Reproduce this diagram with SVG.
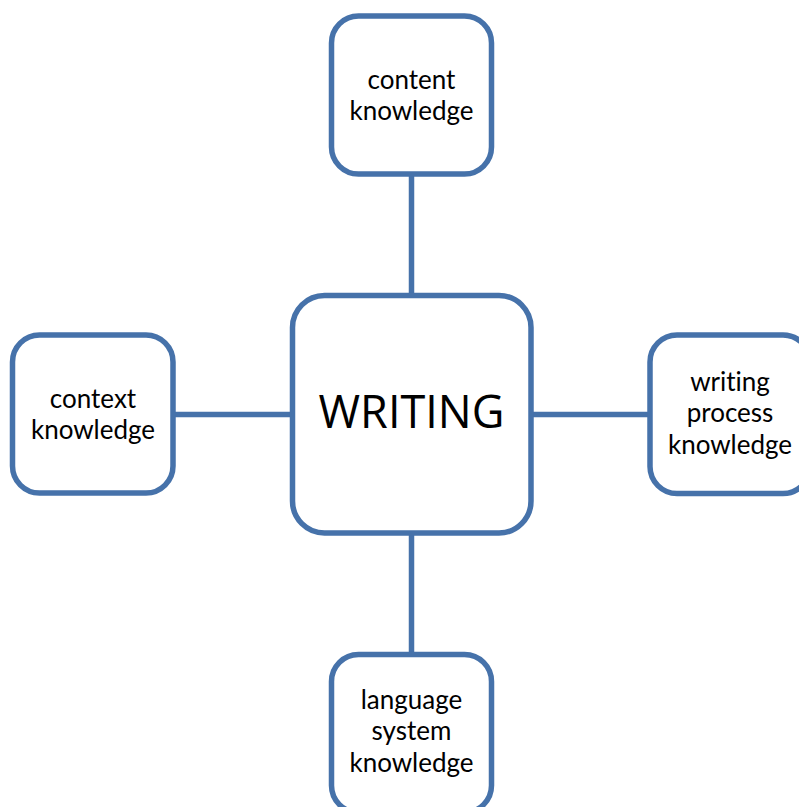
<svg xmlns="http://www.w3.org/2000/svg" width="799" height="807" viewBox="0 0 799 807">
<style>
.box{fill:#ffffff;stroke:#4672aa;stroke-width:5.5}
.conn{stroke:#4672aa;stroke-width:5.5;fill:none}
text{fill:#000;text-anchor:middle}
.lbl{font-family:Lato,"Liberation Sans",sans-serif;font-size:26px;font-variant-ligatures:none}
.main{font-family:"Open Sans","Liberation Sans",sans-serif;font-size:45px}
</style>
<rect width="799" height="807" fill="#ffffff"/>
<g id="connectors">
<line class="conn" x1="411.5" y1="174" x2="411.5" y2="295.5"/>
<line class="conn" x1="173" y1="414.5" x2="292.5" y2="414.5"/>
<line class="conn" x1="531" y1="414.5" x2="650" y2="414.5"/>
<line class="conn" x1="411.5" y1="533" x2="411.5" y2="654.5"/>
</g>
<g id="writing">
<rect class="box" x="292.5" y="295.5" width="238.5" height="237.5" rx="32"/>
<text class="main" x="411.5" y="428">WRITING</text>
</g>
<g id="content">
<rect class="box" x="331.5" y="16" width="160" height="158" rx="27"/>
<text class="lbl"><tspan x="411.5" y="88.5">content</tspan><tspan x="411.5" y="120">knowledge</tspan></text>
</g>
<g id="context">
<rect class="box" x="12.5" y="335" width="160.5" height="158" rx="27"/>
<text class="lbl"><tspan x="93" y="407.5">context</tspan><tspan x="93" y="439">knowledge</tspan></text>
</g>
<g id="process">
<rect class="box" x="650" y="335" width="160" height="158.5" rx="27"/>
<text class="lbl"><tspan x="730" y="390.5">writing</tspan><tspan x="730" y="422">process</tspan><tspan x="730" y="453.5">knowledge</tspan></text>
</g>
<g id="language">
<rect class="box" x="331.5" y="654.5" width="160" height="158" rx="27"/>
<text class="lbl"><tspan x="411.5" y="708.5">language</tspan><tspan x="411.5" y="740">system</tspan><tspan x="411.5" y="772">knowledge</tspan></text>
</g>
</svg>
